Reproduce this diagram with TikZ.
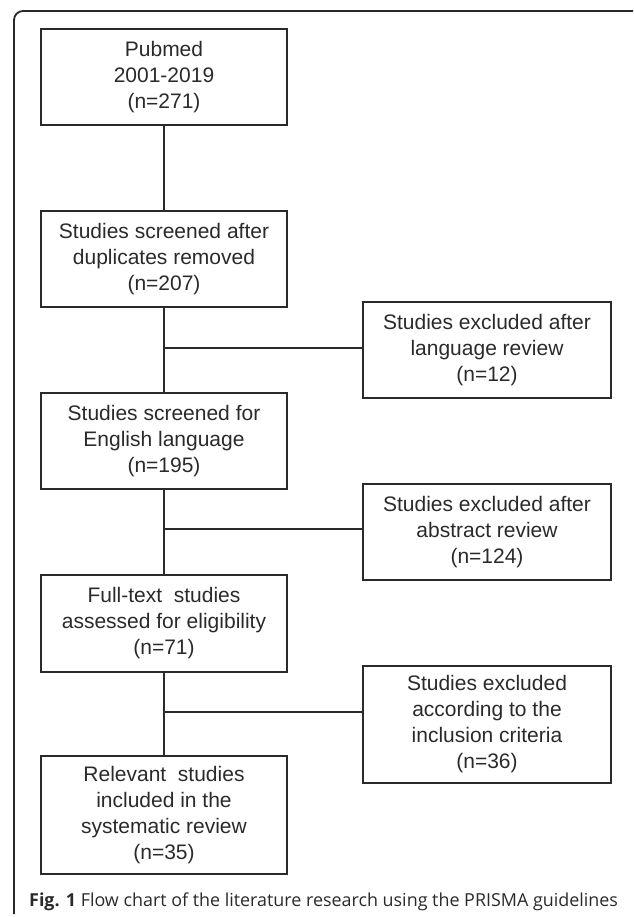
\documentclass[tikz,border=0pt]{standalone}
\usepackage{fontspec}
\setmainfont{Liberation Sans}
\newfontfamily\capfont{Open Sans}
\definecolor{ink}{HTML}{2A2A2A}
\begin{document}
\begin{tikzpicture}[x=1pt,y=-1pt,
  flowbox/.style={draw=ink, line width=1.3pt, text=ink, align=center, minimum width=246pt,
    font=\fontsize{21}{26}\selectfont, inner sep=0pt},
  link/.style={draw=ink, line width=1.3pt}]
\useasboundingbox (0,0) rectangle (633,917);
% frame
\draw[line width=1.8pt, color=ink, rounded corners=9pt] (14,914) -- (14,11) -- (633,11);
% main column
\node[flowbox, minimum height=96pt] (b1) at (164,77) {Pubmed\\2001-2019\\(n=271)};
\node[flowbox, minimum height=96pt] (b2) at (164,259) {Studies screened after\\duplicates removed\\(n=207)};
\node[flowbox, minimum height=96pt] (b3) at (164,441) {Studies screened for\\English language\\(n=195)};
\node[flowbox, minimum height=97pt] (b4) at (164,623.5) {Full-text\ \ studies\\assessed for eligibility\\(n=71)};
\node[flowbox, minimum height=118pt] (b5) at (164,815) {Relevant\ \ studies\\included in the\\systematic review\\(n=35)};
% exclusion boxes
\node[flowbox, minimum width=248pt, minimum height=96pt] (r1) at (487,350) {Studies excluded after\\language review\\(n=12)};
\node[flowbox, minimum width=248pt, minimum height=96pt] (r2) at (487,532) {Studies excluded after\\abstract review\\(n=124)};
\node[flowbox, minimum width=248pt, minimum height=117pt] (r3) at (487,724.5) {Studies excluded\\according to the\\inclusion criteria\\(n=36)};
% junctions
\coordinate (j1) at (164,348);
\coordinate (j2) at (164,529);
\coordinate (j3) at (164,712);
% connectors
\draw[link] (b1) -- (b2);
\draw[link] (b2) -- (b3);
\draw[link] (b3) -- (b4);
\draw[link] (b4) -- (b5);
\draw[link] (j1) -- (j1 -| r1.west);
\draw[link] (j2) -- (j2 -| r2.west);
\draw[link] (j3) -- (j3 -| r3.west);
% caption
\node[anchor=base west, inner sep=0pt, text=ink, font=\capfont\fontsize{17.9}{20}\selectfont] (cap) at (29,906)
  {\textbf{Fig. 1} Flow chart of the literature research using the PRISMA guidelines};
\end{tikzpicture}
\end{document}
